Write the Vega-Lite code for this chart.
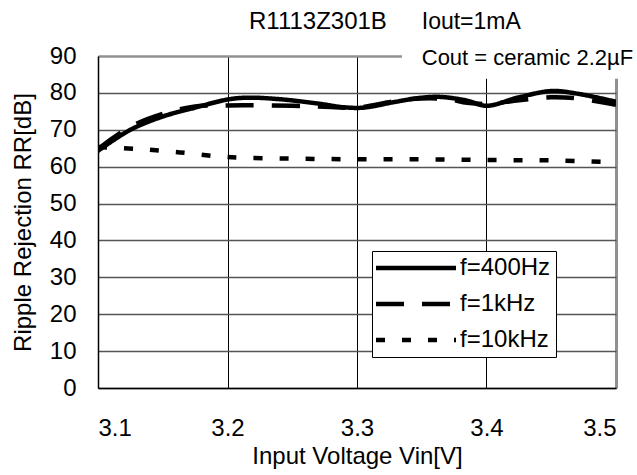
{
  "$schema": "https://vega.github.io/schema/vega-lite/v6.json",
  "width": 518,
  "height": 332,
  "autosize": "none",
  "padding": {"left": 98, "top": 56, "right": 21, "bottom": 87},
  "background": "white",
  "data": {"values": [{}]},
  "config": {
    "font": "Liberation Sans",
    "view": {"stroke": null},
    "axis": {"labelFont": "Liberation Sans", "titleFont": "Liberation Sans", "labelColor": "black", "titleColor": "black", "titleFontWeight": "normal", "labelOverlap": false}
  },
  "datasets": {
    "curves": [
      {"series": "f=400Hz", "vin": 3.100, "rr": 64.3},
      {"series": "f=400Hz", "vin": 3.125, "rr": 70.0},
      {"series": "f=400Hz", "vin": 3.150, "rr": 73.6},
      {"series": "f=400Hz", "vin": 3.175, "rr": 76.0},
      {"series": "f=400Hz", "vin": 3.200, "rr": 78.2},
      {"series": "f=400Hz", "vin": 3.215, "rr": 78.7},
      {"series": "f=400Hz", "vin": 3.240, "rr": 78.3},
      {"series": "f=400Hz", "vin": 3.270, "rr": 77.1},
      {"series": "f=400Hz", "vin": 3.290, "rr": 76.1},
      {"series": "f=400Hz", "vin": 3.305, "rr": 76.0},
      {"series": "f=400Hz", "vin": 3.330, "rr": 77.6},
      {"series": "f=400Hz", "vin": 3.350, "rr": 78.7},
      {"series": "f=400Hz", "vin": 3.365, "rr": 78.9},
      {"series": "f=400Hz", "vin": 3.385, "rr": 77.9},
      {"series": "f=400Hz", "vin": 3.400, "rr": 76.5},
      {"series": "f=400Hz", "vin": 3.425, "rr": 78.8},
      {"series": "f=400Hz", "vin": 3.450, "rr": 80.5},
      {"series": "f=400Hz", "vin": 3.470, "rr": 79.8},
      {"series": "f=400Hz", "vin": 3.500, "rr": 77.6},
      {"series": "f=1kHz", "vin": 3.100, "rr": 64.8},
      {"series": "f=1kHz", "vin": 3.125, "rr": 70.8},
      {"series": "f=1kHz", "vin": 3.150, "rr": 74.3},
      {"series": "f=1kHz", "vin": 3.175, "rr": 76.3},
      {"series": "f=1kHz", "vin": 3.200, "rr": 76.6},
      {"series": "f=1kHz", "vin": 3.250, "rr": 76.5},
      {"series": "f=1kHz", "vin": 3.280, "rr": 76.2},
      {"series": "f=1kHz", "vin": 3.300, "rr": 76.0},
      {"series": "f=1kHz", "vin": 3.330, "rr": 77.8},
      {"series": "f=1kHz", "vin": 3.350, "rr": 78.5},
      {"series": "f=1kHz", "vin": 3.370, "rr": 78.3},
      {"series": "f=1kHz", "vin": 3.385, "rr": 77.3},
      {"series": "f=1kHz", "vin": 3.400, "rr": 77.0},
      {"series": "f=1kHz", "vin": 3.425, "rr": 78.0},
      {"series": "f=1kHz", "vin": 3.450, "rr": 78.8},
      {"series": "f=1kHz", "vin": 3.470, "rr": 78.5},
      {"series": "f=1kHz", "vin": 3.500, "rr": 76.8},
      {"series": "f=10kHz", "vin": 3.100, "rr": 65.3},
      {"series": "f=10kHz", "vin": 3.130, "rr": 64.8},
      {"series": "f=10kHz", "vin": 3.160, "rr": 64.0},
      {"series": "f=10kHz", "vin": 3.200, "rr": 62.6},
      {"series": "f=10kHz", "vin": 3.250, "rr": 62.2},
      {"series": "f=10kHz", "vin": 3.300, "rr": 62.0},
      {"series": "f=10kHz", "vin": 3.350, "rr": 62.0},
      {"series": "f=10kHz", "vin": 3.400, "rr": 61.8},
      {"series": "f=10kHz", "vin": 3.450, "rr": 61.7},
      {"series": "f=10kHz", "vin": 3.500, "rr": 61.2}
    ]
  },
  "encoding": {
    "x": {
      "type": "quantitative",
      "scale": {"domain": [3.1, 3.5], "nice": false, "zero": false},
      "axis": {
        "values": [3.1, 3.2, 3.3, 3.4, 3.5], "format": ".1f",
        "title": "Input Voltage Vin[V]", "titleFontSize": 24, "titlePadding": 4,
        "labelFontSize": 24, "labelPadding": 28, "ticks": false,
        "domainColor": "black", "domainWidth": 1.5,
        "grid": true,
        "gridColor": {"condition": {"test": "datum.value >= 3.49", "value": "#909090"}, "value": "black"},
        "gridWidth": {"condition": {"test": "datum.value >= 3.49", "value": 3}, "value": 1}
      }
    },
    "y": {
      "type": "quantitative",
      "scale": {"domain": [0, 90], "nice": false},
      "axis": {
        "values": [0, 10, 20, 30, 40, 50, 60, 70, 80, 90],
        "title": "Ripple Rejection RR[dB]", "titleFontSize": 24, "titlePadding": 14,
        "labelFontSize": 24, "labelPadding": 22, "ticks": false,
        "domainColor": "black", "domainWidth": 1.5,
        "grid": true,
        "gridColor": {"condition": {"test": "datum.value >= 89", "value": "#909090"}, "value": "#555555"},
        "gridWidth": {"condition": {"test": "datum.value >= 89", "value": 2.5}, "value": 1.3}
      }
    }
  },
  "layer": [
    {
      "data": {"name": "curves"},
      "mark": {"type": "line", "interpolate": "catmull-rom", "strokeWidth": 4.5, "color": "black", "clip": true},
      "encoding": {
        "x": {"field": "vin"},
        "y": {"field": "rr"},
        "detail": {"field": "series"},
        "strokeDash": {
          "field": "series", "type": "nominal",
          "scale": {"domain": ["f=400Hz", "f=1kHz", "f=10kHz"], "range": [[1, 0], [28, 18], [9, 17]]},
          "legend": {
            "title": null, "orient": "none", "legendX": 274, "legendY": 195,
            "symbolType": "M-5,0L5,0", "symbolSize": 256, "symbolStrokeWidth": 4.5, "symbolStrokeColor": "black",
            "symbolOffset": 27,
            "labelFontSize": 24, "labelFont": "Liberation Sans", "labelColor": "black", "labelOffset": 32,
            "strokeColor": "black", "fillColor": "white", "padding": 5, "rowPadding": 12
          }
        }
      }
    },
    {
      "mark": {"type": "rect", "fill": "white", "clip": false},
      "encoding": {
        "x": {"datum": 3.3347},
        "x2": {"datum": 3.53},
        "y": {"datum": 83.8},
        "y2": {"datum": 96}
      }
    },
    {
      "mark": {"type": "text", "text": "R1113Z301B", "align": "left", "baseline": "alphabetic", "fontSize": 24, "font": "Liberation Sans", "clip": false},
      "encoding": {"x": {"datum": 3.2166}, "y": {"datum": 97.3}}
    },
    {
      "mark": {"type": "text", "text": "Iout=1mA", "align": "left", "baseline": "alphabetic", "fontSize": 23, "font": "Liberation Sans", "clip": false},
      "encoding": {"x": {"datum": 3.35}, "y": {"datum": 97.3}}
    },
    {
      "mark": {"type": "text", "text": "Cout = ceramic 2.2µF", "align": "left", "baseline": "alphabetic", "fontSize": 22, "font": "Liberation Sans", "clip": false},
      "encoding": {"x": {"datum": 3.35}, "y": {"datum": 87.5}}
    }
  ]
}
